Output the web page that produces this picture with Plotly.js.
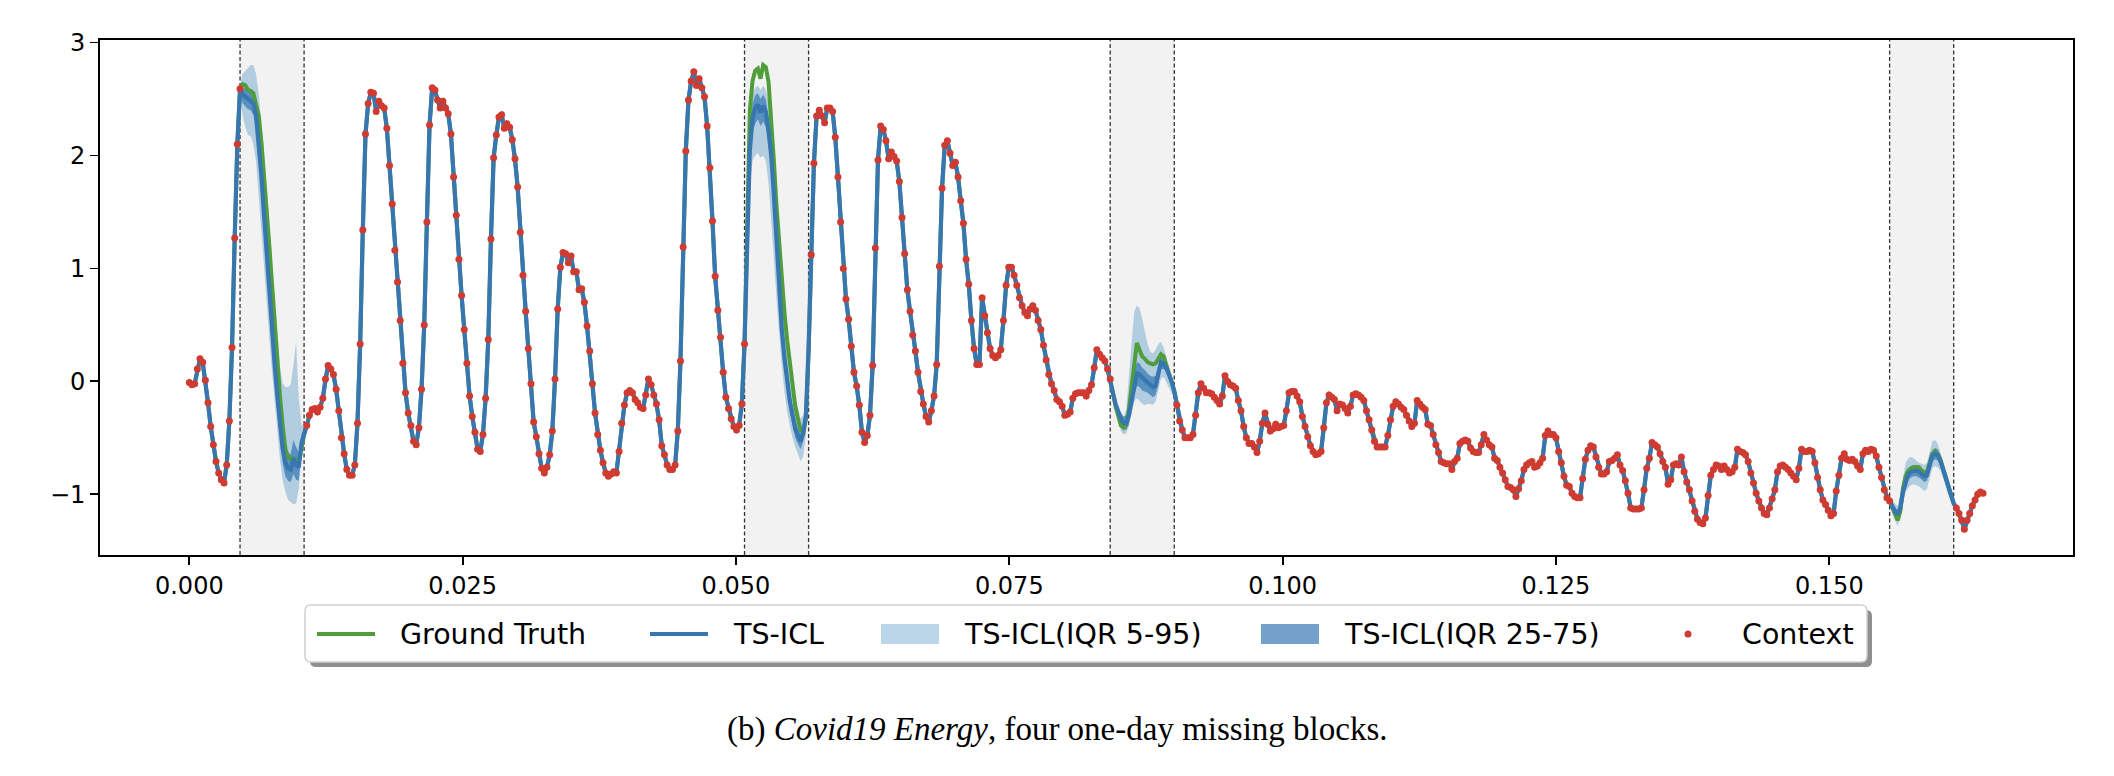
<!DOCTYPE html>
<html><head><meta charset="utf-8">
<script src="https://cdn.plot.ly/plotly-3.0.1.min.js"></script>
<style>html,body{margin:0;padding:0;background:#fff;}#chart{width:2114px;height:776px;}</style>
</head><body><div id="chart"></div>
<script>
// ---------------- DATA ----------------
// hourly samples, time axis value = sample index / 4096
const nSamples = 673;
const timeDivisor = 4096;

// observed context values, by contiguous segment (start index, values)
const ctxStart = [0, 44, 233, 370, 662];
const ctx0 = [-0.01,-0.03,-0.02,0.11,0.20,0.17,0.01,-0.19,-0.40,-0.56,-0.71,-0.81,-0.87,-0.90,-0.74,-0.35,0.30,1.27,2.10,2.59];
const ctx1 = [-0.39,-0.30,-0.25,-0.24,-0.27,-0.23,-0.15,0.02,0.14,0.11,
 0.06,-0.07,-0.26,-0.50,-0.64,-0.78,-0.83,-0.83,-0.74,-0.37,
 0.33,1.34,2.19,2.46,2.56,2.55,2.39,2.48,2.44,2.42,
 2.24,1.91,1.57,1.16,0.88,0.54,0.16,-0.10,-0.28,-0.39,
 -0.53,-0.56,-0.41,-0.07,0.50,1.41,2.27,2.60,2.58,2.49,
 2.42,2.48,2.42,2.37,2.19,1.81,1.47,1.08,0.76,0.46,
 0.16,-0.13,-0.31,-0.45,-0.60,-0.62,-0.47,-0.15,0.37,1.26,
 1.98,2.18,2.34,2.36,2.24,2.28,2.25,2.14,1.97,1.72,
 1.32,0.94,0.62,0.29,-0.02,-0.36,-0.49,-0.64,-0.77,-0.81,
 -0.76,-0.65,-0.44,0.02,0.64,1.01,1.14,1.13,1.05,1.11,
 0.97,0.97,0.81,0.82,0.70,0.49,0.27,-0.02,-0.28,-0.47,
 -0.61,-0.72,-0.81,-0.84,-0.82,-0.80,-0.81,-0.62,-0.37,-0.21,
 -0.10,-0.08,-0.10,-0.16,-0.19,-0.23,-0.24,-0.12,0.02,-0.03,
 -0.12,-0.20,-0.34,-0.57,-0.65,-0.74,-0.78,-0.78,-0.74,-0.44,
 0.18,1.19,2.04,2.49,2.66,2.74,2.62,2.68,2.60,2.52,
 2.26,1.89,1.42,0.93,0.63,0.39,0.08,-0.14,-0.24,-0.33,
 -0.40,-0.43,-0.39,-0.20,0.33];
const ctx2 = [1.12,1.93,2.35,2.40,2.35,2.29,2.42,2.42,2.39,2.16,
 1.81,1.41,1.00,0.73,0.55,0.31,0.08,-0.04,-0.21,-0.45,
 -0.54,-0.48,-0.30,0.14,1.18,1.96,2.26,2.23,2.13,1.97,
 2.03,1.99,1.95,1.77,1.45,1.13,0.81,0.62,0.41,0.27,
 0.08,-0.09,-0.20,-0.31,-0.36,-0.26,-0.13,0.15,1.02,1.71,
 2.09,2.13,2.02,1.91,1.94,1.81,1.60,1.40,1.08,0.86,
 0.54,0.29,0.15,0.15,0.74,0.58,0.43,0.29,0.23,0.21,
 0.23,0.28,0.54,0.85,1.01,1.01,0.94,0.85,0.74,0.67,
 0.61,0.58,0.64,0.67,0.63,0.54,0.46,0.32,0.19,0.06,
 -0.02,-0.08,-0.16,-0.18,-0.22,-0.30,-0.29,-0.27,-0.15,-0.11,
 -0.10,-0.10,-0.10,-0.13,-0.08,-0.03,0.12,0.28,0.24,0.21,
 0.18,0.11,0.02];
const ctx3 = [-0.21,-0.35,-0.43,-0.50,-0.50,-0.50,-0.47,-0.30,-0.10,-0.02,
 -0.06,-0.10,-0.10,-0.11,-0.14,-0.17,-0.20,-0.13,0.05,0.00,
 -0.03,-0.04,-0.06,-0.17,-0.26,-0.40,-0.50,-0.55,-0.55,-0.58,
 -0.63,-0.53,-0.37,-0.28,-0.38,-0.44,-0.42,-0.38,-0.41,-0.40,
 -0.39,-0.26,-0.10,-0.09,-0.09,-0.13,-0.18,-0.31,-0.40,-0.49,
 -0.57,-0.62,-0.65,-0.64,-0.62,-0.41,-0.19,-0.12,-0.14,-0.16,
 -0.26,-0.20,-0.21,-0.24,-0.28,-0.22,-0.12,-0.11,-0.12,-0.14,
 -0.17,-0.26,-0.34,-0.43,-0.53,-0.58,-0.58,-0.58,-0.58,-0.48,
 -0.34,-0.22,-0.18,-0.20,-0.23,-0.25,-0.30,-0.35,-0.40,-0.37,
 -0.17,-0.20,-0.23,-0.25,-0.38,-0.39,-0.47,-0.56,-0.63,-0.71,
 -0.72,-0.73,-0.73,-0.78,-0.71,-0.68,-0.55,-0.53,-0.52,-0.53,
 -0.59,-0.62,-0.63,-0.63,-0.56,-0.47,-0.52,-0.56,-0.58,-0.68,
 -0.70,-0.76,-0.81,-0.87,-0.93,-0.94,-0.96,-1.02,-0.95,-0.88,
 -0.78,-0.74,-0.72,-0.71,-0.76,-0.75,-0.72,-0.68,-0.48,-0.44,
 -0.47,-0.47,-0.50,-0.62,-0.72,-0.84,-0.92,-0.93,-0.99,-1.02,
 -1.03,-1.03,-0.86,-0.69,-0.61,-0.57,-0.58,-0.67,-0.76,-0.82,
 -0.82,-0.80,-0.71,-0.70,-0.68,-0.65,-0.74,-0.79,-0.88,-0.99,
 -1.12,-1.13,-1.13,-1.13,-1.12,-0.96,-0.77,-0.68,-0.54,-0.56,
 -0.58,-0.64,-0.71,-0.76,-0.91,-0.87,-0.74,-0.73,-0.74,-0.67,
 -0.80,-0.89,-0.96,-1.06,-1.15,-1.22,-1.25,-1.26,-1.21,-1.01,
 -0.83,-0.78,-0.74,-0.75,-0.78,-0.75,-0.78,-0.81,-0.80,-0.76,
 -0.60,-0.62,-0.63,-0.65,-0.71,-0.81,-0.90,-0.99,-1.06,-1.12,
 -1.17,-1.18,-1.12,-1.04,-0.96,-0.80,-0.75,-0.74,-0.76,-0.78,
 -0.81,-0.84,-0.87,-0.77,-0.60,-0.62,-0.62,-0.61,-0.62,-0.72,
 -0.85,-0.96,-1.05,-1.09,-1.14,-1.19,-1.17,-0.97,-0.83,-0.68,
 -0.64,-0.69,-0.70,-0.69,-0.71,-0.75,-0.78,-0.64,-0.61,-0.62,
 -0.60,-0.61,-0.66,-0.76,-0.85,-0.96,-1.03,-1.06];
const ctx4 = [-1.12,-1.17,-1.23,-1.31,-1.23,-1.17,-1.10,-1.05,-1.00,-0.98,-0.99];

// missing blocks: first missing index of each 24-hour block, and boundary indices
const missStart = [20, 209, 346, 638];
const blockEdges = [[19,43],[208,232],[345,369],[637,661]];

// ground truth inside the blocks
const gt1 = [2.63,2.62,2.58,2.57,2.55,2.45,2.35,2.12,1.83,1.52,1.19,0.85,0.50,0.14,-0.14,-0.40,-0.60,-0.67,-0.69,-0.68,-0.70,-0.71,-0.60,-0.47];
const gt2 = [1.60,2.40,2.66,2.75,2.77,2.68,2.80,2.78,2.65,2.35,1.95,1.55,1.20,0.87,0.60,0.36,0.15,-0.05,-0.22,-0.33,-0.43,-0.45,-0.33,0.25];
const gt3 = [-0.10,-0.22,-0.30,-0.39,-0.41,-0.38,-0.25,-0.08,0.15,0.34,0.28,0.22,0.20,0.17,0.16,0.15,0.16,0.21,0.24,0.22,0.15,0.07,0.00,-0.08];
const gt4 = [-1.12,-1.19,-1.23,-1.15,-0.95,-0.84,-0.79,-0.77,-0.76,-0.76,-0.76,-0.79,-0.81,-0.80,-0.72,-0.64,-0.62,-0.64,-0.69,-0.77,-0.86,-0.94,-1.02,-1.08];

// TS-ICL median prediction inside the blocks
const pred1 = [2.54,2.52,2.50,2.49,2.46,2.35,2.12,1.82,1.47,1.12,0.78,0.45,0.14,-0.14,-0.40,-0.60,-0.72,-0.77,-0.78,-0.68,-0.74,-0.76,-0.55,-0.45];
const pred2 = [1.20,2.05,2.33,2.42,2.45,2.38,2.44,2.38,2.22,2.00,1.65,1.20,0.80,0.45,0.20,0.00,-0.18,-0.30,-0.42,-0.48,-0.53,-0.46,-0.30,0.30];
const pred3 = [-0.10,-0.20,-0.28,-0.33,-0.37,-0.37,-0.30,-0.16,-0.02,0.07,0.06,0.03,0.01,-0.01,-0.03,-0.05,-0.04,0.05,0.17,0.16,0.12,0.06,0.00,-0.09];
const pred4 = [-1.11,-1.15,-1.18,-1.12,-0.98,-0.88,-0.82,-0.80,-0.79,-0.79,-0.80,-0.82,-0.84,-0.83,-0.74,-0.66,-0.64,-0.65,-0.70,-0.78,-0.87,-0.95,-1.02,-1.08];

// quantile bands, from index (start-1) to (start+24)
const q95_1 = [2.62,2.72,2.75,2.78,2.80,2.80,2.72,2.55,2.30,2.02,1.72,1.40,1.05,0.72,0.40,0.12,-0.02,-0.05,-0.05,-0.03,0.15,0.35,-0.15,-0.38,-0.40,-0.37];
const q05_1 = [2.55,2.35,2.25,2.18,2.17,2.10,1.95,1.70,1.40,1.05,0.70,0.38,0.08,-0.20,-0.45,-0.70,-0.88,-0.98,-1.05,-1.07,-1.09,-1.08,-0.95,-0.65,-0.48,-0.41];
const q75_1 = [2.60,2.60,2.59,2.58,2.57,2.55,2.46,2.25,1.97,1.63,1.29,0.95,0.62,0.31,0.03,-0.24,-0.47,-0.60,-0.64,-0.64,-0.52,-0.58,-0.63,-0.47,-0.42,-0.38];
const q25_1 = [2.57,2.46,2.44,2.41,2.40,2.36,2.24,2.00,1.68,1.32,0.96,0.62,0.30,-0.01,-0.29,-0.54,-0.73,-0.84,-0.88,-0.89,-0.82,-0.87,-0.88,-0.64,-0.50,-0.40];

const q95_2 = [0.40,1.70,2.35,2.55,2.60,2.62,2.58,2.62,2.58,2.48,2.28,1.98,1.60,1.20,0.88,0.58,0.36,0.15,-0.02,-0.15,-0.25,-0.33,-0.30,-0.15,0.40,1.15];
const q05_2 = [0.28,0.85,1.72,1.95,2.00,2.02,1.98,2.00,1.95,1.75,1.45,1.08,0.72,0.40,0.13,-0.10,-0.27,-0.40,-0.50,-0.58,-0.64,-0.71,-0.66,-0.48,0.18,1.09];
const q75_2 = [0.36,1.40,2.20,2.46,2.53,2.55,2.50,2.54,2.49,2.34,2.12,1.78,1.34,0.94,0.58,0.32,0.10,-0.09,-0.22,-0.34,-0.41,-0.46,-0.40,-0.24,0.34,1.13];
const q25_2 = [0.31,1.02,1.92,2.20,2.28,2.32,2.26,2.30,2.25,2.08,1.85,1.50,1.06,0.66,0.33,0.08,-0.10,-0.27,-0.38,-0.50,-0.55,-0.60,-0.53,-0.36,0.26,1.10];

const q95_3 = [0.05,-0.05,-0.15,-0.24,-0.30,-0.32,-0.25,0.05,0.40,0.62,0.67,0.65,0.55,0.43,0.33,0.26,0.25,0.28,0.33,0.35,0.30,0.22,0.12,0.03,-0.06,-0.19];
const q05_3 = [-0.02,-0.14,-0.26,-0.36,-0.44,-0.47,-0.46,-0.40,-0.28,-0.18,-0.15,-0.17,-0.20,-0.21,-0.20,-0.20,-0.21,-0.18,-0.08,0.02,0.04,0.00,-0.05,-0.10,-0.15,-0.23];
const q75_3 = [0.03,-0.07,-0.16,-0.24,-0.28,-0.31,-0.30,-0.20,-0.04,0.10,0.17,0.16,0.12,0.10,0.07,0.05,0.04,0.05,0.13,0.23,0.21,0.16,0.09,0.03,-0.06,-0.20];
const q25_3 = [0.00,-0.12,-0.23,-0.32,-0.38,-0.42,-0.43,-0.38,-0.26,-0.12,-0.04,-0.05,-0.08,-0.09,-0.10,-0.12,-0.14,-0.12,-0.03,0.11,0.11,0.08,0.02,-0.04,-0.12,-0.22];

const q95_4 = [-1.04,-1.05,-1.08,-1.10,-1.00,-0.85,-0.72,-0.68,-0.67,-0.68,-0.70,-0.72,-0.73,-0.74,-0.72,-0.62,-0.53,-0.52,-0.55,-0.63,-0.72,-0.82,-0.91,-0.99,-1.05,-1.10];
const q05_4 = [-1.08,-1.17,-1.23,-1.28,-1.22,-1.08,-0.98,-0.94,-0.92,-0.91,-0.92,-0.93,-0.95,-0.97,-0.95,-0.85,-0.77,-0.75,-0.76,-0.79,-0.85,-0.92,-1.00,-1.06,-1.11,-1.14];
const q75_4 = [-1.05,-1.08,-1.12,-1.14,-1.07,-0.93,-0.82,-0.77,-0.75,-0.74,-0.74,-0.75,-0.77,-0.79,-0.78,-0.69,-0.61,-0.59,-0.60,-0.65,-0.73,-0.82,-0.91,-0.98,-1.04,-1.10];
const q25_4 = [-1.07,-1.14,-1.19,-1.22,-1.17,-1.03,-0.93,-0.87,-0.85,-0.84,-0.84,-0.85,-0.87,-0.89,-0.88,-0.79,-0.71,-0.69,-0.70,-0.75,-0.83,-0.92,-1.00,-1.06,-1.11,-1.13];

const xTickVals = [0, 0.025, 0.05, 0.075, 0.1, 0.125, 0.15];
const xTickText = ['0.000','0.025','0.050','0.075','0.100','0.125','0.150'];
const yTickVals = [-1, 0, 1, 2, 3];
const legendLabels = ['Ground Truth','TS-ICL','TS-ICL(IQR 5-95)','TS-ICL(IQR 25-75)','Context'];
const captionText = '(b) <i>Covid19 Energy</i>, four one-day missing blocks.';

// ---------------- ASSEMBLY ----------------
const C_GREEN = '#4f9e3b', C_BLUE = '#3876b0', C_RED = '#d03b31';
const C_LIGHT = 'rgba(31,119,180,0.30)', C_DARK = 'rgba(40,110,175,0.65)';

const tx = i => i / timeDivisor;
const xs = Array.from({length: nSamples}, (_, i) => tx(i));
const ctxSegs = [ctx0, ctx1, ctx2, ctx3, ctx4];
const ctxFull = new Array(nSamples).fill(null);
ctxSegs.forEach((seg, s) => seg.forEach((v, k) => { ctxFull[ctxStart[s] + k] = v; }));

const gtBlocks = [gt1, gt2, gt3, gt4];
const predBlocks = [pred1, pred2, pred3, pred4];
const gtFull = ctxFull.slice();
const predFull = ctxFull.slice();
missStart.forEach((st, b) => {
  gtBlocks[b].forEach((v, k) => { gtFull[st + k] = v; });
  predBlocks[b].forEach((v, k) => { predFull[st + k] = v; });
});

const bandOuter = [[q05_1,q95_1],[q05_2,q95_2],[q05_3,q95_3],[q05_4,q95_4]];
const bandInner = [[q25_1,q75_1],[q25_2,q75_2],[q25_3,q75_3],[q25_4,q75_4]];

function bandTrace(b, lo, hi, color) {
  const st = missStart[b] - 1;
  const bx = hi.map((_, k) => xs[st + k]);
  return {
    type: 'scatter', mode: 'lines', showlegend: false, hoverinfo: 'skip',
    x: bx.concat(bx.slice().reverse()),
    y: hi.concat(lo.slice().reverse()),
    fill: 'toself', fillcolor: color, line: {width: 0, color: color}
  };
}

const traces = [];
bandOuter.forEach(([lo, hi], b) => traces.push(bandTrace(b, lo, hi, C_LIGHT)));
bandInner.forEach(([lo, hi], b) => traces.push(bandTrace(b, lo, hi, C_DARK)));
traces.push({type:'scatter', mode:'lines', name: legendLabels[0], x: xs, y: gtFull,
  line: {color: C_GREEN, width: 4}});
traces.push({type:'scatter', mode:'lines', name: legendLabels[1], x: xs, y: predFull,
  line: {color: C_BLUE, width: 4.2}});
traces.push({type:'scatter', mode:'markers', name: legendLabels[4], x: xs, y: ctxFull,
  marker: {color: C_RED, size: 7, line: {width: 0}}});

// plot geometry (px)
const W = 2114, H = 776, L = 100, R = 2073, T = 40, B = 555;
const PX = px => (px - L) / (R - L);
const PY = py => (B - py) / (B - T);

const shapes = [];
blockEdges.forEach(([a, b]) => {
  shapes.push({type:'rect', xref:'x', yref:'paper', x0: tx(a), x1: tx(b), y0: 0, y1: 1,
    fillcolor: '#f2f2f2', line: {width: 0}, layer: 'below'});
});
blockEdges.forEach(([a, b]) => {
  [a, b].forEach(e => shapes.push({type:'line', xref:'x', yref:'paper', x0: tx(e), x1: tx(e), y0: 0, y1: 1,
    line: {color: '#333', width: 1.3, dash: '4px,2.5px'}, layer: 'below'}));
});

function roundRect(x0, y0, x1, y1, r) {
  return `M ${PX(x0 + r)},${PY(y0)} L ${PX(x1 - r)},${PY(y0)} Q ${PX(x1)},${PY(y0)} ${PX(x1)},${PY(y0 + r)} ` +
    `L ${PX(x1)},${PY(y1 - r)} Q ${PX(x1)},${PY(y1)} ${PX(x1 - r)},${PY(y1)} ` +
    `L ${PX(x0 + r)},${PY(y1)} Q ${PX(x0)},${PY(y1)} ${PX(x0)},${PY(y1 - r)} ` +
    `L ${PX(x0)},${PY(y0 + r)} Q ${PX(x0)},${PY(y0)} ${PX(x0 + r)},${PY(y0)} Z`;
}
// legend frame with shadow
const LG = {x0: 305, x1: 1867, y0: 605, y1: 662, cy: 634};
shapes.push({type:'path', xref:'paper', yref:'paper', path: roundRect(LG.x0 + 5, LG.y0 + 5, LG.x1 + 5, LG.y1 + 5, 6),
  fillcolor: '#8f8f8f', line: {width: 0}});
shapes.push({type:'path', xref:'paper', yref:'paper', path: roundRect(LG.x0, LG.y0, LG.x1, LG.y1, 6),
  fillcolor: '#ffffff', line: {width: 1.5, color: '#d0d0d0'}});
// legend handles
shapes.push({type:'line', xref:'paper', yref:'paper', x0: PX(317), x1: PX(375), y0: PY(LG.cy), y1: PY(LG.cy), line: {color: C_GREEN, width: 4}});
shapes.push({type:'line', xref:'paper', yref:'paper', x0: PX(650), x1: PX(708), y0: PY(LG.cy), y1: PY(LG.cy), line: {color: C_BLUE, width: 4.2}});
shapes.push({type:'rect', xref:'paper', yref:'paper', x0: PX(881), x1: PX(939), y0: PY(LG.cy - 10), y1: PY(LG.cy + 10), fillcolor: C_LIGHT, line: {width: 0}});
shapes.push({type:'rect', xref:'paper', yref:'paper', x0: PX(1261), x1: PX(1319), y0: PY(LG.cy - 10), y1: PY(LG.cy + 10), fillcolor: C_DARK, line: {width: 0}});
shapes.push({type:'circle', xref:'paper', yref:'paper', x0: PX(1684.5), x1: PX(1691.5), y0: PY(LG.cy - 3.5), y1: PY(LG.cy + 3.5), fillcolor: C_RED, line: {width: 0}});

const legendTextX = [398, 731, 962, 1342, 1740];
const annotations = legendLabels.map((t, k) => ({
  text: t, xref: 'paper', yref: 'paper', x: PX(legendTextX[k]), y: PY(LG.cy), xanchor: 'left', yanchor: 'middle',
  showarrow: false, font: {family: 'DejaVu Sans', size: 28.5, color: '#000'}
}));
annotations.push({text: captionText, xref: 'paper', yref: 'paper', x: PX(1057), y: PY(729), xanchor: 'center', yanchor: 'middle',
  showarrow: false, font: {family: 'Liberation Serif', size: 33, color: '#000'}});

const axisCommon = {showgrid: false, zeroline: false, showline: true, mirror: true, linecolor: '#000', linewidth: 1.8,
  ticks: 'outside', ticklen: 8, tickwidth: 1.8, tickcolor: '#000', tickfont: {family: 'DejaVu Sans', size: 24, color: '#000'}};

const layout = {
  width: W, height: H, margin: {l: L, r: W - R, t: T, b: H - B, pad: 0},
  paper_bgcolor: '#fff', plot_bgcolor: '#fff', showlegend: false,
  font: {family: 'DejaVu Sans', size: 24, color: '#000'},
  xaxis: Object.assign({range: [-0.00817, 0.17229], tickmode: 'array', tickvals: xTickVals, ticktext: xTickText}, axisCommon),
  yaxis: Object.assign({range: [-1.537, 3.022], tickmode: 'array', tickvals: yTickVals}, axisCommon),
  shapes: shapes, annotations: annotations
};

Plotly.newPlot('chart', traces, layout, {staticPlot: true, displayModeBar: false});
</script></body></html>
